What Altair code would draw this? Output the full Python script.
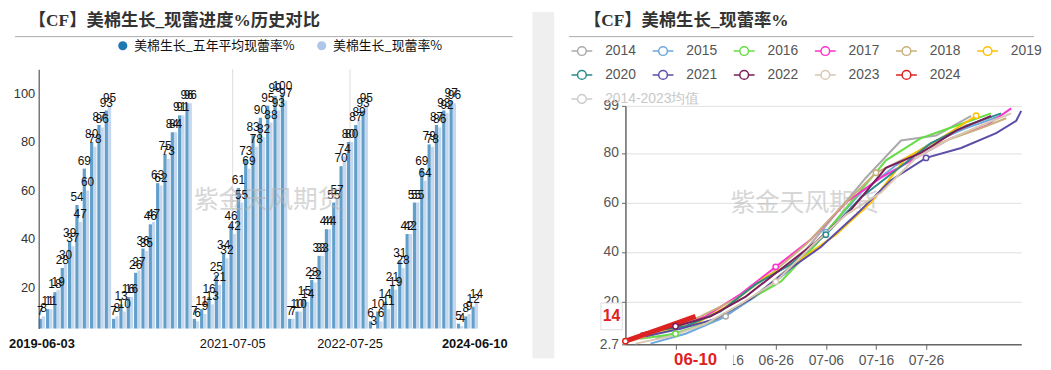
import altair as alt
import pandas as pd
from datetime import date, timedelta

# ---------------- data ----------------
YEARS = ["2014", "2015", "2016", "2017", "2018", "2019", "2020", "2021", "2022", "2023", "2024"]
AVG_NAME = "2014-2023均值"
FIRST_MONDAY = ["2014-06-02", "2015-06-01", "2016-05-30", "2017-05-29", "2018-05-28", "2019-06-03",
                "2020-06-01", "2021-05-31", "2022-05-30", "2023-05-29", "2024-05-27"]

# weekly squaring % (current year)
SQ_2014 = [5, 9, 14, 24, 36, 53, 70, 85, 87, 95]
SQ_2015 = [3, 7, 13, 22, 33, 48, 64, 75, 84, 90, 95]
SQ_2016 = [5, 7, 12, 20, 28, 43, 60, 77, 86, 91, 96]
SQ_2017 = [5, 9, 14, 23, 34, 45, 60, 70, 78, 86, 91, 98]
SQ_2018 = [4, 8, 14, 21, 31, 43, 58, 72, 79, 85, 90, 94]
SQ_2019 = [8, 11, 19, 30, 37, 47, 60, 78, 86, 95]
SQ_2020 = [8, 10, 16, 27, 35, 47, 62, 73, 84, 91, 96]
SQ_2021 = [6, 9, 13, 21, 32, 42, 55, 69, 78, 82, 88, 93, 97]
SQ_2022 = [7, 10, 14, 22, 33, 44, 57, 74, 80, 89, 95]
SQ_2023 = [3, 6, 11, 19, 28, 42, 55, 64, 78, 86, 92, 96]
SQ_2024 = [4, 9, 14]
SQUARING = [SQ_2014, SQ_2015, SQ_2016, SQ_2017, SQ_2018, SQ_2019,
            SQ_2020, SQ_2021, SQ_2022, SQ_2023, SQ_2024]

# five-year average squaring % (2019-2024 seasons)
AVG5_2019 = [7, 11, 18, 28, 39, 54, 69, 80, 87, 93]
AVG5_2020 = [7, 13, 16, 26, 36, 46, 63, 75, 84, 91, 96]
AVG5_2021 = [7, 11, 16, 25, 34, 46, 61, 73, 83, 90, 95, 99, 100]
AVG5_2022 = [7, 10, 15, 23, 33, 44, 55, 70, 80, 87, 93]
AVG5_2023 = [6, 10, 14, 21, 31, 42, 55, 69, 79, 87, 93, 97]
AVG5_2024 = [5, 8, 12]
AVG5 = [AVG5_2019, AVG5_2020, AVG5_2021, AVG5_2022, AVG5_2023, AVG5_2024]

SERIES = ["美棉生长_五年平均现蕾率%", "美棉生长_现蕾率%"]
BAR_COLORS = ["#1f77b4", "#aec7e8"]
LEFT_LABEL_DATES = ["2019-06-03", "2021-07-05", "2022-07-25", "2024-06-10"]
LEFT_GRID_DATES = ["2021-07-05", "2022-07-25"]

LINE_COLORS = ["#aaaaaa", "#6fa8dc", "#66dd44", "#ff33cc", "#c8b07a", "#ffc000",
               "#2b8a8a", "#5b4ea6", "#7b1e5a", "#d8c8b4", "#dd2222"]
AVG_COLOR = "#cccccc"

LEFT_TITLE = "【CF】美棉生长_现蕾进度%历史对比"
RIGHT_TITLE = "【CF】美棉生长_现蕾率%"
WATERMARK = "紫金天风期货"


def weeks(start, n):
    d0 = date.fromisoformat(start)
    return [(d0 + timedelta(days=7 * i)).isoformat() for i in range(n)]


# ---------------- right table ----------------
rrows = []
for y, st, vals in zip(YEARS, FIRST_MONDAY, SQUARING):
    for d, v in zip(weeks(st, len(vals)), vals):
        rrows.append({"year": y, "md": d[5:], "value": v})
md_domain = sorted(set(r["md"] for r in rrows))
tick_md = md_domain[::10]
label_md = tick_md[1:7]
for r in rrows:
    r["tick"] = r["md"] in tick_md
rdf = pd.DataFrame(rrows)
rdf_hist = rdf[rdf["year"] != "2024"]
rdf_now = rdf[rdf["year"] == "2024"]
last_now = rdf_now.tail(1)
avg_df = pd.DataFrame({"s": [AVG_NAME], "md": [md_domain[0]], "value": [2.7]})

# ---------------- left table ----------------
lrows = []
left_dates = []
for i, y in enumerate(YEARS[5:]):
    cur = SQUARING[5 + i]
    ds = weeks(FIRST_MONDAY[5 + i], len(cur))
    left_dates += ds
    for d, a, c in zip(ds, AVG5[i], cur):
        lrows.append({"date": d, "series": SERIES[0], "value": a})
        lrows.append({"date": d, "series": SERIES[1], "value": c})
ldf = pd.DataFrame(lrows)
gdf = pd.DataFrame({"date": LEFT_GRID_DATES})
one = pd.DataFrame({"k": [0]})

CJK = "Noto Sans CJK SC"
TITLE_FONT = "Liberation Serif, Noto Sans CJK SC"
X0 = 37.5  # left plot origin (page px), used for root-level legend placement

# ---------------- left chart ----------------
W1, H1 = 444, 225
TOP1 = -37
xl = alt.X("date:O", scale=alt.Scale(domain=left_dates, paddingInner=0.12, paddingOuter=0),
           axis=alt.Axis(values=LEFT_LABEL_DATES, title=None, labelAngle=0, labelAlign="center",
                         domain=False, ticks=False,
                         grid=False, labelFontSize=13, labelColor="#111", labelPadding=15,
                         labelOverlap=False, labelFont="Liberation Sans",
                         labelFontWeight={"condition": {"test": "datum.value == '2019-06-03' || datum.value == '2024-06-10'",
                                                        "value": "bold"}, "value": "normal"}))
yl = alt.Y("value:Q", scale=alt.Scale(domain=[3, 110], range=[H1, TOP1], nice=False, zero=False),
           axis=alt.Axis(values=[20, 40, 60, 80, 100], title=None, domainColor="#333", ticks=False,
                         labelFontSize=13, labelColor="#333", labelPadding=4, gridColor="#e3e3e3",
                         labelFont="Liberation Sans"))

grid_l = alt.Chart(gdf).mark_rule(color="#dddddd", strokeWidth=1).encode(
    x=alt.X("date:O"), y=alt.datum(110), y2=alt.datum(3))
bars = alt.Chart(ldf).mark_bar(opacity=0.7).encode(
    x=xl,
    xOffset=alt.XOffset("series:N", scale=alt.Scale(domain=SERIES)),
    y=yl, y2=alt.datum(3),
    color=alt.Color("series:N", scale=alt.Scale(domain=SERIES, range=BAR_COLORS),
                    legend=alt.Legend(orient="none", legendX=116 - X0, legendY=-67.5, direction="horizontal",
                                      title=None, symbolType="circle", symbolSize=85, symbolOpacity=1,
                                      labelFontSize=13, labelFont=CJK, labelColor="#111",
                                      columnPadding=20, labelOffset=5, labelLimit=300)))
blabels = alt.Chart(ldf).mark_text(baseline="bottom", dy=-1, fontSize=12, font="Liberation Sans",
                                   color="#111").encode(
    x=alt.X("date:O"), xOffset=alt.XOffset("series:N"), y=alt.Y("value:Q"), text=alt.Text("value:Q"))
wm_l = alt.Chart(one).mark_text(fontSize=25, font=CJK, color="#b5b5b5", opacity=0.55).encode(
    x=alt.value(232), y=alt.value(95), text=alt.value(WATERMARK))
title_l = alt.Chart(one).mark_text(align="left", baseline="top", fontSize=17.5, fontWeight="bold",
                                   font=TITLE_FONT, color="#333").encode(
    x=alt.value(-10), y=alt.value(-95), text=alt.value(LEFT_TITLE))
trule_l = alt.Chart(one).mark_rule(color="#aaaaaa", strokeWidth=1).encode(
    x=alt.value(-24), x2=alt.value(479), y=alt.value(-70))
band = alt.Chart(one).mark_rect(color="#efefef").encode(
    x=alt.value(499), x2=alt.value(521), y=alt.value(-95), y2=alt.value(255))

left = alt.layer(band, grid_l, bars, blabels, wm_l, title_l, trule_l).properties(width=W1, height=H1)

# ---------------- right chart ----------------
W2, H2 = 400, 241
LEG_SYMBOL = ("M-1,0L-0.42,0M0.42,0L1,0M0.42,0C0.42,0.232,0.232,0.42,0,0.42C-0.232,0.42,-0.42,0.232,-0.42,0"
              "C-0.42,-0.232,-0.232,-0.42,0,-0.42C0.232,-0.42,0.42,-0.232,0.42,0Z")
BOX_Y = "M-0.8,-1H0.8V1H-0.8Z"
BOX_X = "M-2.1,-0.5H2.1V0.5H-2.1Z"

xr = alt.X("md:O", scale=alt.Scale(type="point", domain=md_domain, padding=0),
           axis=alt.Axis(values=label_md, title=None, labelAngle=0, labelAlign="center", labelFontSize=14,
                         labelColor="#555", domainColor="#666", domainWidth=1.5, tickColor="#666", tickSize=5,
                         labelPadding=4, grid=False, labelFont="Liberation Sans", labelOverlap=False))
yr = alt.Y("value:Q", scale=alt.Scale(domain=[2.7, 99], nice=False, zero=False),
           axis=alt.Axis(values=[2.7, 20, 40, 60, 80, 99], format=".1~f", title=None, labelFontSize=14,
                         labelColor="#555", domainColor="#666", domainWidth=1.5, tickColor="#666", tickSize=4,
                         gridColor="#e0e0e0", labelPadding=3, labelFont="Liberation Sans"))

RIGHT_LEG_X = 575 - X0
leg_r = alt.Legend(orient="none", legendX=RIGHT_LEG_X, legendY=-67, columns=6, direction="horizontal",
                   title=None, symbolType=LEG_SYMBOL, symbolSize=441, symbolStrokeWidth=1.5,
                   symbolFillColor="white", labelFontSize=14, labelFont="Liberation Sans", labelColor="#555555",
                   labelOffset=12, columnPadding=13, rowPadding=5.2, labelLimit=300)
leg_avg = alt.Legend(orient="none", legendX=RIGHT_LEG_X, legendY=-18.5, title=None, symbolType=LEG_SYMBOL,
                     symbolSize=441, symbolStrokeWidth=1.5, symbolFillColor="white",
                     symbolStrokeColor=AVG_COLOR, labelFontSize=14, labelFont="Liberation Sans",
                     labelColor="#c8c8c8", labelOffset=12, labelLimit=300)
stroke_scale = alt.Scale(domain=YEARS, range=LINE_COLORS)

wm_r = alt.Chart(one).mark_text(fontSize=25, font=CJK, color="#b5b5b5", opacity=0.55).encode(
    x=alt.value(181), y=alt.value(98), text=alt.value(WATERMARK))
avg_hidden = alt.Chart(avg_df).mark_line(opacity=0, strokeWidth=1.5).encode(
    x=alt.X("md:O"), y=alt.Y("value:Q"),
    strokeDash=alt.StrokeDash("s:N", scale=alt.Scale(domain=[AVG_NAME], range=[[1, 0]]), legend=leg_avg))
lines = alt.Chart(rdf_hist).mark_line(strokeWidth=2).encode(
    x=xr, y=yr, stroke=alt.Stroke("year:N", scale=stroke_scale, legend=leg_r))
line_now = alt.Chart(rdf_now).mark_line(strokeWidth=5).encode(
    x=alt.X("md:O"), y=alt.Y("value:Q"), stroke=alt.Stroke("year:N"))
pts = alt.Chart(rdf).transform_filter("datum.tick").mark_point(
    filled=True, fill="white", size=30, strokeWidth=1.5, opacity=1).encode(
    x=alt.X("md:O"), y=alt.Y("value:Q"), stroke=alt.Stroke("year:N"))
ybox = alt.Chart(last_now).mark_point(shape=BOX_Y, size=729, filled=True, fill="white",
                                      stroke="#dddddd", strokeWidth=1, opacity=1).encode(
    x=alt.value(-14), y=alt.Y("value:Q"))
ytxt = alt.Chart(last_now).mark_text(color="#dd2222", fontWeight="bold", fontSize=16,
                                     font="Liberation Sans").encode(
    x=alt.value(-14), y=alt.Y("value:Q"), text=alt.Text("value:Q"))
xbox = alt.Chart(last_now).mark_point(shape=BOX_X, size=1296, filled=True, fill="white",
                                      strokeWidth=0, opacity=1).encode(
    x=alt.X("md:O"), y=alt.value(H2 + 16))
xtxt = alt.Chart(last_now).mark_text(color="#dd2222", fontWeight="bold", fontSize=17,
                                     font="Liberation Sans").encode(
    x=alt.X("md:O"), y=alt.value(H2 + 16), text=alt.Text("md:N"))
title_r = alt.Chart(one).mark_text(align="left", baseline="top", fontSize=17.5, fontWeight="bold",
                                   font=TITLE_FONT, color="#333").encode(
    x=alt.value(-42), y=alt.value(-95), text=alt.value(RIGHT_TITLE))
trule_r = alt.Chart(one).mark_rule(color="#aaaaaa", strokeWidth=1).encode(
    x=alt.value(-57), x2=alt.value(413), y=alt.value(-70))

right = alt.layer(wm_r, lines, avg_hidden, line_now, pts, ybox, ytxt, xbox, xtxt, title_r, trule_r).properties(
    width=W2, height=H2)

chart = alt.hconcat(left, right, spacing=14).configure(
    font="Liberation Sans", padding={"left": 0, "top": 2, "right": 0, "bottom": 0}, background="white"
).configure_view(stroke=None)

chart.save("out.html", embed_options={"renderer": "svg", "actions": False})
